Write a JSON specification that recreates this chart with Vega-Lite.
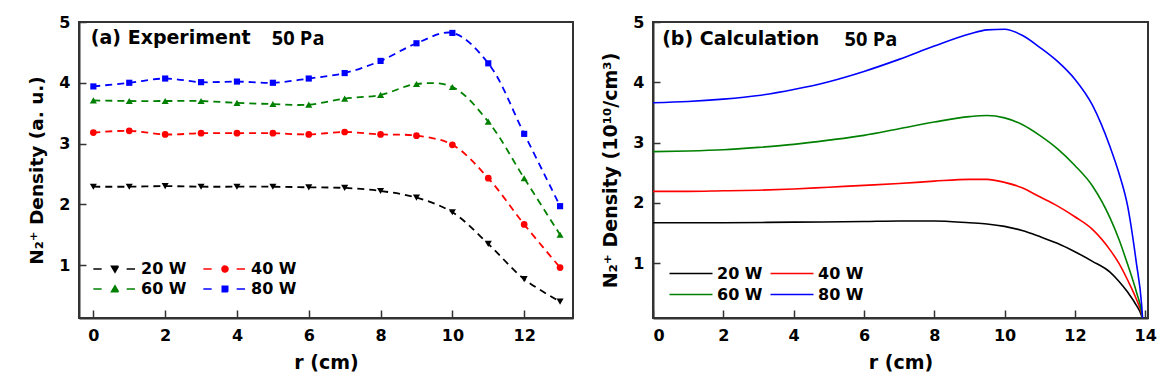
{
  "$schema": "https://vega.github.io/schema/vega-lite/v6.json",
  "padding": {"left": 26, "top": 13, "right": 5, "bottom": 5},
  "background": "white",
  "spacing": 26,
  "config": {
    "view": {"stroke": "#333", "strokeWidth": 2},
    "axis": {
      "grid": false,
      "domainColor": "#333",
      "domainWidth": 2,
      "tickColor": "#333",
      "tickWidth": 1.5,
      "labelFont": "DejaVu Sans",
      "labelFontWeight": "bold",
      "labelFontSize": 16,
      "labelColor": "black",
      "titleFont": "DejaVu Sans",
      "titleFontWeight": "bold",
      "titleFontSize": 19,
      "titleColor": "black"
    },
    "legend": {
      "labelFont": "DejaVu Sans",
      "labelFontWeight": "bold",
      "labelFontSize": 16,
      "labelColor": "black"
    }
  },
  "resolve": {"scale": {"color": "independent"}, "legend": {"color": "independent"}},
  "datasets": {
    "exp": [
      {"r": 0, "d": 2.29, "s": "20 W"}, {"r": 1, "d": 2.29, "s": "20 W"}, {"r": 2, "d": 2.30, "s": "20 W"}, {"r": 3, "d": 2.29, "s": "20 W"}, {"r": 4, "d": 2.29, "s": "20 W"}, {"r": 5, "d": 2.29, "s": "20 W"}, {"r": 6, "d": 2.28, "s": "20 W"}, {"r": 7, "d": 2.27, "s": "20 W"}, {"r": 8, "d": 2.22, "s": "20 W"}, {"r": 9, "d": 2.11, "s": "20 W"}, {"r": 10, "d": 1.87, "s": "20 W"}, {"r": 11, "d": 1.35, "s": "20 W"}, {"r": 12, "d": 0.77, "s": "20 W"}, {"r": 13, "d": 0.40, "s": "20 W"},
      {"r": 0, "d": 3.18, "s": "40 W"}, {"r": 1, "d": 3.21, "s": "40 W"}, {"r": 2, "d": 3.15, "s": "40 W"}, {"r": 3, "d": 3.17, "s": "40 W"}, {"r": 4, "d": 3.17, "s": "40 W"}, {"r": 5, "d": 3.17, "s": "40 W"}, {"r": 6, "d": 3.15, "s": "40 W"}, {"r": 7, "d": 3.19, "s": "40 W"}, {"r": 8, "d": 3.15, "s": "40 W"}, {"r": 9, "d": 3.13, "s": "40 W"}, {"r": 10, "d": 2.98, "s": "40 W"}, {"r": 11, "d": 2.43, "s": "40 W"}, {"r": 12, "d": 1.67, "s": "40 W"}, {"r": 13, "d": 0.96, "s": "40 W"},
      {"r": 0, "d": 3.71, "s": "60 W"}, {"r": 1, "d": 3.70, "s": "60 W"}, {"r": 2, "d": 3.70, "s": "60 W"}, {"r": 3, "d": 3.70, "s": "60 W"}, {"r": 4, "d": 3.67, "s": "60 W"}, {"r": 5, "d": 3.65, "s": "60 W"}, {"r": 6, "d": 3.64, "s": "60 W"}, {"r": 7, "d": 3.74, "s": "60 W"}, {"r": 8, "d": 3.80, "s": "60 W"}, {"r": 9, "d": 3.98, "s": "60 W"}, {"r": 10, "d": 3.93, "s": "60 W"}, {"r": 11, "d": 3.36, "s": "60 W"}, {"r": 12, "d": 2.43, "s": "60 W"}, {"r": 13, "d": 1.50, "s": "60 W"},
      {"r": 0, "d": 3.94, "s": "80 W"}, {"r": 1, "d": 4.00, "s": "80 W"}, {"r": 2, "d": 4.07, "s": "80 W"}, {"r": 3, "d": 4.01, "s": "80 W"}, {"r": 4, "d": 4.02, "s": "80 W"}, {"r": 5, "d": 4.00, "s": "80 W"}, {"r": 6, "d": 4.07, "s": "80 W"}, {"r": 7, "d": 4.16, "s": "80 W"}, {"r": 8, "d": 4.36, "s": "80 W"}, {"r": 9, "d": 4.65, "s": "80 W"}, {"r": 10, "d": 4.82, "s": "80 W"}, {"r": 11, "d": 4.32, "s": "80 W"}, {"r": 12, "d": 3.16, "s": "80 W"}, {"r": 13, "d": 1.97, "s": "80 W"}
    ],
    "calc": [
      {"r": 0, "d": 1.67, "s": "20 W"}, {"r": 2, "d": 1.67, "s": "20 W"}, {"r": 4, "d": 1.68, "s": "20 W"}, {"r": 6, "d": 1.69, "s": "20 W"}, {"r": 7, "d": 1.70, "s": "20 W"}, {"r": 8, "d": 1.70, "s": "20 W"}, {"r": 9, "d": 1.67, "s": "20 W"}, {"r": 9.5, "d": 1.65, "s": "20 W"}, {"r": 10, "d": 1.61, "s": "20 W"}, {"r": 10.5, "d": 1.54, "s": "20 W"}, {"r": 11, "d": 1.44, "s": "20 W"}, {"r": 11.5, "d": 1.33, "s": "20 W"}, {"r": 12, "d": 1.19, "s": "20 W"}, {"r": 12.5, "d": 1.03, "s": "20 W"}, {"r": 13, "d": 0.85, "s": "20 W"}, {"r": 13.25, "d": 0.70, "s": "20 W"}, {"r": 13.5, "d": 0.52, "s": "20 W"}, {"r": 13.75, "d": 0.30, "s": "20 W"}, {"r": 13.9, "d": 0.12, "s": "20 W"}, {"r": 13.93, "d": 0.05, "s": "20 W"},
      {"r": 0, "d": 2.19, "s": "40 W"}, {"r": 1, "d": 2.19, "s": "40 W"}, {"r": 2, "d": 2.20, "s": "40 W"}, {"r": 3, "d": 2.21, "s": "40 W"}, {"r": 4, "d": 2.23, "s": "40 W"}, {"r": 5, "d": 2.26, "s": "40 W"}, {"r": 6, "d": 2.29, "s": "40 W"}, {"r": 7, "d": 2.32, "s": "40 W"}, {"r": 8, "d": 2.36, "s": "40 W"}, {"r": 9, "d": 2.39, "s": "40 W"}, {"r": 9.5, "d": 2.39, "s": "40 W"}, {"r": 10, "d": 2.34, "s": "40 W"}, {"r": 10.5, "d": 2.25, "s": "40 W"}, {"r": 11, "d": 2.10, "s": "40 W"}, {"r": 11.5, "d": 1.95, "s": "40 W"}, {"r": 12, "d": 1.77, "s": "40 W"}, {"r": 12.5, "d": 1.56, "s": "40 W"}, {"r": 13, "d": 1.22, "s": "40 W"}, {"r": 13.25, "d": 1.00, "s": "40 W"}, {"r": 13.5, "d": 0.72, "s": "40 W"}, {"r": 13.75, "d": 0.40, "s": "40 W"}, {"r": 13.9, "d": 0.15, "s": "40 W"}, {"r": 13.93, "d": 0.05, "s": "40 W"},
      {"r": 0, "d": 2.85, "s": "60 W"}, {"r": 1, "d": 2.86, "s": "60 W"}, {"r": 2, "d": 2.88, "s": "60 W"}, {"r": 3, "d": 2.92, "s": "60 W"}, {"r": 4, "d": 2.97, "s": "60 W"}, {"r": 5, "d": 3.04, "s": "60 W"}, {"r": 6, "d": 3.12, "s": "60 W"}, {"r": 7, "d": 3.23, "s": "60 W"}, {"r": 8, "d": 3.34, "s": "60 W"}, {"r": 9, "d": 3.43, "s": "60 W"}, {"r": 9.5, "d": 3.45, "s": "60 W"}, {"r": 10, "d": 3.41, "s": "60 W"}, {"r": 10.5, "d": 3.30, "s": "60 W"}, {"r": 11, "d": 3.12, "s": "60 W"}, {"r": 11.5, "d": 2.90, "s": "60 W"}, {"r": 12, "d": 2.62, "s": "60 W"}, {"r": 12.5, "d": 2.28, "s": "60 W"}, {"r": 13, "d": 1.75, "s": "60 W"}, {"r": 13.25, "d": 1.40, "s": "60 W"}, {"r": 13.5, "d": 0.98, "s": "60 W"}, {"r": 13.75, "d": 0.52, "s": "60 W"}, {"r": 13.9, "d": 0.18, "s": "60 W"}, {"r": 13.93, "d": 0.05, "s": "60 W"},
      {"r": 0, "d": 3.66, "s": "80 W"}, {"r": 1, "d": 3.68, "s": "80 W"}, {"r": 2, "d": 3.72, "s": "80 W"}, {"r": 3, "d": 3.78, "s": "80 W"}, {"r": 4, "d": 3.88, "s": "80 W"}, {"r": 5, "d": 4.01, "s": "80 W"}, {"r": 6, "d": 4.18, "s": "80 W"}, {"r": 7, "d": 4.38, "s": "80 W"}, {"r": 8, "d": 4.60, "s": "80 W"}, {"r": 9, "d": 4.80, "s": "80 W"}, {"r": 9.5, "d": 4.87, "s": "80 W"}, {"r": 10, "d": 4.88, "s": "80 W"}, {"r": 10.5, "d": 4.78, "s": "80 W"}, {"r": 11, "d": 4.58, "s": "80 W"}, {"r": 11.5, "d": 4.35, "s": "80 W"}, {"r": 12, "d": 4.05, "s": "80 W"}, {"r": 12.5, "d": 3.62, "s": "80 W"}, {"r": 13, "d": 2.93, "s": "80 W"}, {"r": 13.25, "d": 2.50, "s": "80 W"}, {"r": 13.5, "d": 1.95, "s": "80 W"}, {"r": 13.75, "d": 1.00, "s": "80 W"}, {"r": 13.9, "d": 0.30, "s": "80 W"}, {"r": 13.93, "d": 0.05, "s": "80 W"}
    ]
  },
  "hconcat": [
    {
      "width": 494,
      "height": 296,
      "layer": [
        {
          "data": {"name": "exp"},
          "mark": {"type": "line", "interpolate": "catmull-rom", "strokeDash": [7, 5], "strokeWidth": 1.8, "clip": true},
          "encoding": {
            "x": {"field": "r", "type": "quantitative", "scale": {"domain": [-0.4, 13.36], "nice": false, "zero": false},
              "axis": {"title": "r (cm)", "values": [0,1,2,3,4,5,6,7,8,9,10,11,12,13], "labelExpr": "datum.value % 2 === 0 ? datum.label : ''",
                "tickSize": {"condition": {"test": "datum.value % 2 !== 0", "value": -5}, "value": -8}, "labelPadding": 17, "titlePadding": 10}},
            "y": {"field": "d", "type": "quantitative", "scale": {"domain": [0.13, 5], "nice": false, "zero": false},
              "axis": {"title": "N₂⁺ Density (a. u.)", "titleFontSize": 18.5, "values": [1,1.5,2,2.5,3,3.5,4,4.5,5], "labelExpr": "datum.value % 1 === 0 ? format(datum.value, 'd') : ''",
                "tickSize": {"condition": {"test": "datum.value % 1 !== 0", "value": -4}, "value": -7}, "labelPadding": 16, "titlePadding": 12}},
            "color": {"field": "s", "type": "nominal", "scale": {"domain": ["20 W", "40 W", "60 W", "80 W"], "range": ["black", "#ff0000", "#008000", "#0000ff"]},
              "legend": {
                "title": null, "orient": "none", "legendX": 28, "legendY": 239, "direction": "horizontal", "columns": 2,
                "symbolSize": 100, "labelOffset": 18, "columnPadding": 13, "rowPadding": 4,
                "encode": {"symbols": {"update": {
                  "shape": {"signal": "datum.value === '20 W' ? 'M-4.33,0H-2.67M2.33,0H4M-0.7,-0.55L0.7,-0.55L0,0.65Z' : datum.value === '40 W' ? 'M-4.33,0H-2.67M2.33,0H4M-0.6,0A0.6,0.6 0 1,0 0.6,0A0.6,0.6 0 1,0 -0.6,0Z' : datum.value === '60 W' ? 'M-4.33,0H-2.67M2.33,0H4M-0.7,0.55L0.7,0.55L0,-0.65Z' : 'M-4.33,0H-2.67M2.33,0H4M-0.55,-0.55H0.55V0.55H-0.55Z'"},
                  "stroke": {"signal": "datum.value === '20 W' ? 'black' : datum.value === '40 W' ? '#ff0000' : datum.value === '60 W' ? '#008000' : '#0000ff'"},
                  "fill": {"signal": "datum.value === '20 W' ? 'black' : datum.value === '40 W' ? '#ff0000' : datum.value === '60 W' ? '#008000' : '#0000ff'"},
                  "strokeWidth": {"value": 1.5},
                  "strokeDash": {"value": [1, 0]},
                  "opacity": {"value": 1},
                  "size": {"value": 100}
                }}}
              }}
          }
        },
        {
          "data": {"name": "exp"},
          "transform": [{"filter": "datum.s === '20 W'"}],
          "mark": {"type": "point", "shape": "triangle-down", "filled": true, "opacity": 1, "size": 50},
          "encoding": {"x": {"field": "r", "type": "quantitative"}, "y": {"field": "d", "type": "quantitative"}, "color": {"field": "s", "type": "nominal", "legend": null}}
        },
        {
          "data": {"name": "exp"},
          "transform": [{"filter": "datum.s === '40 W'"}],
          "mark": {"type": "point", "shape": "circle", "filled": true, "opacity": 1, "size": 45},
          "encoding": {"x": {"field": "r", "type": "quantitative"}, "y": {"field": "d", "type": "quantitative"}, "color": {"field": "s", "type": "nominal", "legend": null}}
        },
        {
          "data": {"name": "exp"},
          "transform": [{"filter": "datum.s === '60 W'"}],
          "mark": {"type": "point", "shape": "triangle-up", "filled": true, "opacity": 1, "size": 50},
          "encoding": {"x": {"field": "r", "type": "quantitative"}, "y": {"field": "d", "type": "quantitative"}, "color": {"field": "s", "type": "nominal", "legend": null}}
        },
        {
          "data": {"name": "exp"},
          "transform": [{"filter": "datum.s === '80 W'"}],
          "mark": {"type": "point", "shape": "square", "filled": true, "opacity": 1, "size": 38},
          "encoding": {"x": {"field": "r", "type": "quantitative"}, "y": {"field": "d", "type": "quantitative"}, "color": {"field": "s", "type": "nominal", "legend": null}}
        },
        {
          "data": {"values": [{"r": -0.07, "d": 4.63, "t": "(a) Experiment"}]},
          "mark": {"type": "text", "align": "left", "baseline": "alphabetic", "font": "DejaVu Sans", "fontWeight": "bold", "fontSize": 19, "color": "black"},
          "encoding": {"x": {"field": "r", "type": "quantitative"}, "y": {"field": "d", "type": "quantitative"}, "text": {"field": "t"}}
        },
        {
          "data": {"values": [{"r": 4.97, "d": 4.62, "t": "50 Pa"}]},
          "mark": {"type": "text", "align": "left", "baseline": "alphabetic", "font": "Open Sans", "fontWeight": "bold", "fontSize": 20, "color": "black"},
          "encoding": {"x": {"field": "r", "type": "quantitative"}, "y": {"field": "d", "type": "quantitative"}, "text": {"field": "t"}}
        }
      ]
    },
    {
      "width": 495,
      "height": 296,
      "layer": [
        {
          "data": {"name": "calc"},
          "mark": {"type": "line", "interpolate": "monotone", "strokeWidth": 1.6, "clip": true},
          "encoding": {
            "x": {"field": "r", "type": "quantitative", "scale": {"domain": [0, 14.08], "nice": false, "zero": false},
              "axis": {"title": "r (cm)", "values": [0,1,2,3,4,5,6,7,8,9,10,11,12,13,14], "labelExpr": "datum.value % 2 === 0 ? datum.label : ''",
                "tickSize": {"condition": {"test": "datum.value % 2 !== 0", "value": -5}, "value": -8}, "labelPadding": 17, "titlePadding": 10}},
            "y": {"field": "d", "type": "quantitative", "scale": {"domain": [0.09, 5], "nice": false, "zero": false},
              "axis": {"title": "N₂⁺ Density (10¹⁰/cm³)", "values": [1,1.5,2,2.5,3,3.5,4,4.5,5], "labelExpr": "datum.value % 1 === 0 ? format(datum.value, 'd') : ''",
                "tickSize": {"condition": {"test": "datum.value % 1 !== 0", "value": -4}, "value": -7}, "labelPadding": 16, "titlePadding": 12}},
            "color": {"field": "s", "type": "nominal", "scale": {"domain": ["20 W", "40 W", "60 W", "80 W"], "range": ["black", "#ff0000", "#008000", "#0000ff"]},
              "legend": {
                "title": null, "orient": "none", "legendX": 30, "legendY": 243.5, "direction": "horizontal", "columns": 2,
                "symbolSize": 100, "labelOffset": 18, "columnPadding": 4, "rowPadding": 5,
                "encode": {"symbols": {"update": {
                  "shape": {"value": "M-4.3,0H4.3"},
                  "stroke": {"signal": "datum.value === '20 W' ? 'black' : datum.value === '40 W' ? '#ff0000' : datum.value === '60 W' ? '#008000' : '#0000ff'"},
                  "strokeWidth": {"value": 1.6},
                  "opacity": {"value": 1},
                  "size": {"value": 100}
                }}}
              }}
          }
        },
        {
          "data": {"values": [{"r": 0.26, "d": 4.62, "t": "(b) Calculation"}]},
          "mark": {"type": "text", "align": "left", "baseline": "alphabetic", "font": "DejaVu Sans", "fontWeight": "bold", "fontSize": 19, "color": "black"},
          "encoding": {"x": {"field": "r", "type": "quantitative"}, "y": {"field": "d", "type": "quantitative"}, "text": {"field": "t"}}
        },
        {
          "data": {"values": [{"r": 5.45, "d": 4.61, "t": "50 Pa"}]},
          "mark": {"type": "text", "align": "left", "baseline": "alphabetic", "font": "Open Sans", "fontWeight": "bold", "fontSize": 20, "color": "black"},
          "encoding": {"x": {"field": "r", "type": "quantitative"}, "y": {"field": "d", "type": "quantitative"}, "text": {"field": "t"}}
        }
      ]
    }
  ]
}
